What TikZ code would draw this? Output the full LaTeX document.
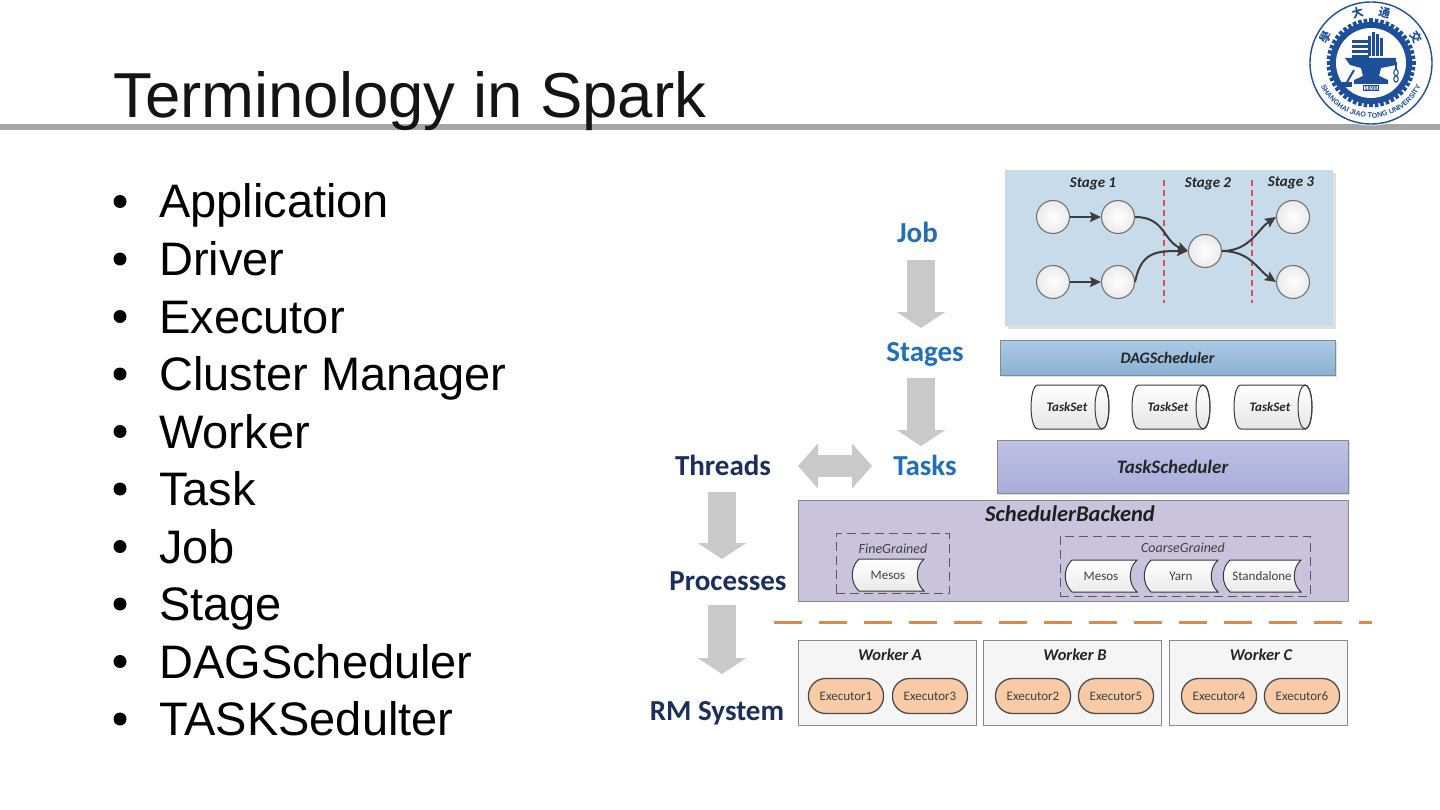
\documentclass[tikz,border=0pt]{standalone}
\usepackage{fontspec}
\setmainfont{Liberation Sans}
\newfontfamily\cali{Carlito}
\newfontfamily\cjkf{Noto Sans CJK SC}
\usetikzlibrary{arrows.meta,decorations.text}
\definecolor{titlec}{HTML}{141414}
\definecolor{linegray}{HTML}{A6A6A6}
\definecolor{stagebg}{HTML}{C8DBEA}
\definecolor{redd}{HTML}{D9505C}
\definecolor{arrowdk}{HTML}{3D3D3D}
\definecolor{dagtop}{HTML}{AACAE6}
\definecolor{dagbot}{HTML}{8BB1D3}
\definecolor{tstop}{HTML}{BEC2E6}
\definecolor{tsbot}{HTML}{A8ADDA}
\definecolor{sbfill}{HTML}{CBC3DC}
\definecolor{boxedge}{HTML}{8A8A8A}
\definecolor{wfill}{HTML}{F5F5F5}
\definecolor{execfill}{HTML}{F6CBA6}
\definecolor{orangeln}{HTML}{DC8A45}
\definecolor{gbig}{HTML}{C9C9C9}
\definecolor{bluelbl}{HTML}{1F70B8}
\definecolor{navy}{HTML}{1B2F5C}
\definecolor{logob}{HTML}{1D4F9A}
\definecolor{darkln}{HTML}{3A3A3A}

\newcommand\cylat[4]{%
  \path[tsshape] ({#2-32},{#3-22}) -- ({#2+32},{#3-22})
     .. controls ({#2+41.3},{#3-22}) and ({#2+41.3},{#3+22}) .. ({#2+32},{#3+22})
     -- ({#2-32},{#3+22})
     .. controls ({#2-41.3},{#3+22}) and ({#2-41.3},{#3-22}) .. cycle;
  \draw[darkln, line width=1pt] ({#2+32},{#3}) ellipse [x radius=7pt, y radius=22pt];
  \node[tstext] (#1) at ({#2-3},{#3}) {#4};
}
\newcommand\tapeat[5]{%
  \path[tapeshape] ({#2-#4/2+5},{#3-16}) -- ({#2+#4/2},{#3-16})
     .. controls ({#2+#4/2-9},{#3-8}) and ({#2+#4/2-9},{#3+8}) .. ({#2+#4/2},{#3+16})
     -- ({#2-#4/2+5},{#3+16})
     .. controls ({#2-#4/2-4},{#3+8}) and ({#2-#4/2-4},{#3-8}) .. cycle;
  \node[tapetext] (#1) at ({#2-1},#3) {#5};
}

\begin{document}
\begin{tikzpicture}[x=1pt,y=-1pt,
  bullettext/.style={anchor=base west, inner sep=0pt, text=black, font=\fontsize{47}{50}\selectfont},
  stnode/.style={circle, draw=black!55, line width=1.1pt, inner color=white, outer color=black!8, minimum size=33pt, inner sep=0pt},
  flow/.style={draw=arrowdk, line width=2pt, -{Stealth[length=11pt,width=10pt,inset=2pt]}},
  stagelbl/.style={font=\cali\bfseries\itshape\fontsize{15}{16}\selectfont, text=black!85, anchor=base, inner sep=0pt},
  redline/.style={draw=redd, line width=1.6pt, dash pattern=on 6pt off 4pt},
  tsshape/.style={draw=darkln, line width=1pt, top color=white, bottom color=black!10},
  tstext/.style={font=\cali\bfseries\itshape\fontsize{13}{14}\selectfont, text=black!85, inner sep=0pt},
  tapeshape/.style={draw=darkln, line width=1pt, top color=white, bottom color=black!8},
  tapetext/.style={font=\cali\fontsize{13}{14}\selectfont, text=black!75, inner sep=0pt},
  bigarrow/.style={draw=gbig, line width=28pt, -{Triangle[length=16pt,width=48pt]}},
  biglbl/.style={font=\cali\bfseries\fontsize{29}{30}\selectfont, anchor=base, inner sep=0pt},
  wbox/.style={draw=boxedge, line width=0.9pt, fill=wfill, minimum width=178pt, minimum height=85pt, inner sep=0pt},
  wtitle/.style={font=\cali\bfseries\itshape\fontsize{16.5}{17}\selectfont, text=black!85, inner sep=0pt, anchor=base},
  exec/.style={draw=black!70, line width=1.3pt, fill=execfill, rounded corners=17pt, minimum width=75pt, minimum height=35pt, inner sep=0pt, font=\cali\fontsize{13}{14}\selectfont, text=black!75},
  dashbox/.style={draw=black!65, line width=0.9pt, dash pattern=on 9pt off 5pt, inner sep=0pt},
  italbl/.style={font=\cali\itshape\fontsize{14}{15}\selectfont, text=black!75, inner sep=0pt, anchor=base},
  sealch/.style={text=logob, font=\cjkf\bfseries\fontsize{11.5}{12}\selectfont, inner sep=0pt}
]
\useasboundingbox (0,0) rectangle (1440,810);
\fill[white] (0,0) rectangle (1440,810);

% ---------- title ----------
\fill[linegray] (0,124) rectangle (1440,130);
\node[anchor=base west, inner sep=0pt, text=titlec, font=\fontsize{63.5}{66}\selectfont] (title) at (113,118) {Terminology in Spark};

% ---------- logo ----------
\fill[white] (1371,63) circle (62.5pt);
\draw[logob, line width=1.4pt] (1371,63) circle (61pt);
\foreach \a in {0,7.5,...,352.5}
  \fill[logob, shift={(1371,63)}, rotate=\a] (-1.8,36) rectangle (1.8,44.5);
\fill[logob] (1371,63) circle (41pt);
\fill[white] (1371,63) circle (35pt);
\path[decorate, decoration={text along path, text align=center, text color=logob,
   text={|\bfseries\fontsize{7.2}{8}\selectfont|SHANGHAI JIAO TONG UNIVERSITY}}]
   (1316.5,55.3) arc[start angle=172, end angle=368, radius=55pt];
\node[sealch, rotate=60] (sj1) at (1326.0,37.0) {學};
\node[sealch, rotate=15] (sj2) at (1357.5,12.8) {大};
\node[sealch, rotate=-15] (sj3) at (1384.5,12.8) {通};
\node[sealch, rotate=-60] (sj4) at (1416.0,37.0) {交};
% emblem
\foreach \bx/\bh in {-3/20,1/24,5/22,9/18}
  \fill[logob] ({1371+\bx},{56}) rectangle ({1371+\bx+3},{56-\bh});
\foreach \by in {40,45,50,55}
  \fill[logob] (1352,\by) rectangle (1369,{\by+3});
\fill[logob] (1345,58) -- (1396,58) -- (1396,65) -- (1381,68) -- (1379,76) -- (1388,80) -- (1388,84) -- (1354,84) -- (1354,80) -- (1363,76) -- (1361,68) -- (1350,65) -- cycle;
\draw[logob, line width=2pt] (1354,70) -- (1346,84);
\fill[logob] (1342,82) rectangle (1352,87);
\draw[logob, line width=1.2pt] (1396,62) -- (1396,69);
\draw[logob, line width=1.1pt] (1396,72.5) ellipse [x radius=2.2pt, y radius=3.2pt];
\draw[logob, line width=1.1pt] (1396,79) ellipse [x radius=2.2pt, y radius=3.2pt];
\node[draw=logob, fill=white, line width=0.8pt, text=logob, inner sep=0.7pt, font=\bfseries\fontsize{6}{6.5}\selectfont] (yr) at (1371,88) {1896};

% ---------- bullets ----------
\foreach \t [count=\i] in {Application,Driver,Executor,Cluster Manager,Worker,Task,Job,Stage,DAGScheduler,TASKSedulter}{
  \pgfmathsetmacro\yy{218+57.5*(\i-1)}
  \fill[black] (120,{\yy-16.5}) circle (6.5pt);
  \node[bullettext] (b\i) at (159,\yy) {\t};
}

% ---------- stage panel ----------
\fill[black!12] (1008,173) rectangle (1336,329);
\fill[stagebg] (1005,170) rectangle (1333,326);
\node[stagelbl] (st1) at (1093,188) {Stage 1};
\node[stagelbl] (st2) at (1208,188) {Stage 2};
\node[stagelbl] (st3) at (1291,187) {Stage 3};
\coordinate (r1a) at (1164,180); \coordinate (r1b) at (1164,303);
\coordinate (r2a) at (1252,180); \coordinate (r2b) at (1252,303);
\draw[redline] (r1a) -- (r1b);
\draw[redline] (r2a) -- (r2b);
\node[stnode] (c1) at (1053,217) {};
\node[stnode] (c2) at (1118,217) {};
\node[stnode] (c3) at (1053,282) {};
\node[stnode] (c4) at (1118,282) {};
\node[stnode] (c5) at (1205,251) {};
\node[stnode] (c6) at (1293,217) {};
\node[stnode] (c7) at (1293,282) {};
\draw[flow] (c1) -- (c2);
\draw[flow] (c3) -- (c4);
\draw[flow] (c2.east) .. controls +(30,0) and +(-25,-10) .. (c5.west);
\draw[flow] (c4.east) .. controls +(6,-30) and +(-32,0) .. (c5.west);
\draw[flow] (c5.east) .. controls +(28,0) and +(-18,12) .. (c6.west);
\draw[flow] (c5.east) .. controls +(28,0) and +(-18,-12) .. (c7.west);

% ---------- schedulers ----------
\fill[black!12] (1002,342) rectangle (1337,377);
\node[draw=boxedge, line width=0.9pt, top color=dagtop, bottom color=dagbot, minimum width=335pt, minimum height=35pt, inner sep=0pt,
  font=\cali\bfseries\itshape\fontsize{16}{17}\selectfont, text=black!85] (dag) at (1167.5,357.5) {DAGScheduler};
\cylat{ts1}{1070}{407}{TaskSet}
\cylat{ts2}{1171}{407}{TaskSet}
\cylat{ts3}{1273}{407}{TaskSet}
\fill[black!12] (999,442) rectangle (1350,495);
\node[draw=boxedge, line width=0.9pt, top color=tstop, bottom color=tsbot, minimum width=351pt, minimum height=53pt, inner sep=0pt,
  font=\cali\bfseries\itshape\fontsize{19}{20}\selectfont, text=black!85] (tsch) at (1172.5,466.5) {TaskScheduler};

% ---------- scheduler backend ----------
\node[draw=boxedge, line width=0.9pt, fill=sbfill, minimum width=550pt, minimum height=101pt, inner sep=0pt] (sb) at (1073.5,550.5) {};
\node[font=\cali\bfseries\itshape\fontsize{22.5}{23}\selectfont, text=black!88, inner sep=0pt, anchor=base] (sbt) at (1070,521) {SchedulerBackend};
\node[dashbox, minimum width=113pt, minimum height=60pt] (fg) at (892.5,563.5) {};
\node[italbl] (fgt) at (893,553) {FineGrained};
\node[dashbox, minimum width=250pt, minimum height=60pt] (cg) at (1185,566) {};
\node[italbl] (cgt) at (1183,552) {CoarseGrained};
\tapeat{m1}{889}{575}{70}{Mesos}
\tapeat{m2}{1102}{576}{70}{Mesos}
\tapeat{yarn}{1182}{576}{72}{Yarn}
\tapeat{sa}{1263}{576}{76}{Standalone}

% ---------- orange separator ----------
\coordinate (o1) at (774,622.5); \coordinate (o2) at (1372,622.5);
\draw[orangeln, line width=3.2pt, dash pattern=on 28pt off 17pt] (o1) -- (o2);

% ---------- workers ----------
\node[wbox] (wa) at (887.5,683) {};
\node[wbox] (wb) at (1072.5,683) {};
\node[wbox] (wc) at (1258.5,683) {};
\node[wtitle] (wat) at (890,660) {Worker A};
\node[wtitle] (wbt) at (1075,660) {Worker B};
\node[wtitle] (wct) at (1261,660) {Worker C};
\node[exec] (e1) at (846,696) {Executor1};
\node[exec] (e3) at (930,696) {Executor3};
\node[exec] (e2) at (1033,696) {Executor2};
\node[exec] (e5) at (1116,696) {Executor5};
\node[exec] (e4) at (1219,696) {Executor4};
\node[exec] (e6) at (1302,696) {Executor6};

% ---------- left labels ----------
\node[biglbl, text=bluelbl] (job) at (917.5,243) {Job};
\node[biglbl, text=bluelbl] (stages) at (925,361) {Stages};
\node[biglbl, text=bluelbl] (tasks) at (925,475) {Tasks};
\node[biglbl, text=navy] (threads) at (723,475) {Threads};
\node[biglbl, text=navy] (procs) at (728,590) {Processes};
\node[biglbl, text=navy] (rms) at (717,720) {RM System};

\coordinate (a1s) at (921,260); \coordinate (a1e) at (921,328);
\coordinate (a2s) at (921,378); \coordinate (a2e) at (921,446);
\coordinate (a3s) at (722,492); \coordinate (a3e) at (722,559);
\coordinate (a4s) at (722,605); \coordinate (a4e) at (722,674);
\coordinate (d1) at (798,466); \coordinate (d2) at (872,466);
\draw[bigarrow] (a1s) -- (a1e);
\draw[bigarrow] (a2s) -- (a2e);
\draw[bigarrow] (a3s) -- (a3e);
\draw[bigarrow] (a4s) -- (a4e);
\draw[draw=gbig, line width=22pt, {Triangle[length=20pt,width=44pt]}-{Triangle[length=20pt,width=44pt]}] (d1) -- (d2);
\end{tikzpicture}
\end{document}
